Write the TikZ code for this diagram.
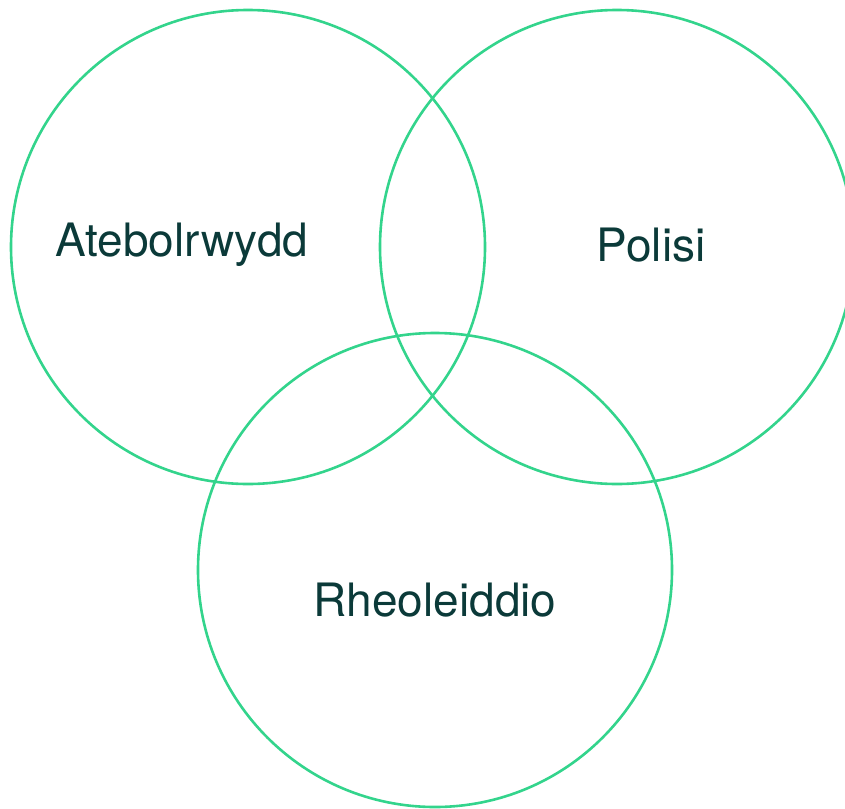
\documentclass[tikz,border=0pt]{standalone}
\usepackage{fontspec}
\setmainfont{TeX Gyre Heros}
\definecolor{ring}{HTML}{33D48C}
\definecolor{ink}{HTML}{0B3A39}
\tikzset{
  ring/.style={draw=ring, line width=2.6pt},
  lbl/.style={text=ink, font=\fontsize{46}{52}\selectfont, inner sep=0pt, anchor=center}
}
\begin{document}
\begin{tikzpicture}[x=1pt,y=-1pt]
\useasboundingbox (0,0) rectangle (845,808);
\clip (0,0) rectangle (845,808);
\node[circle, ring, minimum size=474pt, inner sep=0pt] (c1) at (248,247) {};
\node[circle, ring, minimum size=474pt, inner sep=0pt] (c2) at (617,247) {};
\node[circle, ring, minimum size=474pt, inner sep=0pt] (c3) at (435,570) {};
\node[lbl] (t1) at (182,245) {Atebolrwydd};
\node[lbl] (t2) at (651,245) {Polisi};
\node[lbl] (t3) at (435,600) {Rheoleiddio};
\end{tikzpicture}
\end{document}
